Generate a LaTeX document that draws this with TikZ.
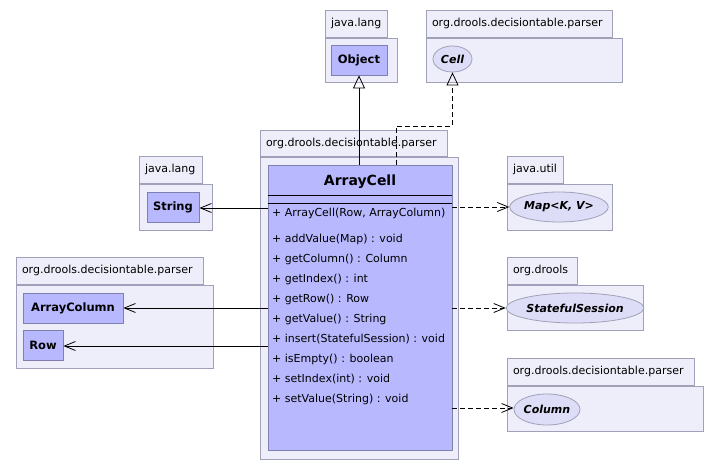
\documentclass[tikz,border=0pt]{standalone}
\usepackage{fontspec}
\setmainfont{DejaVu Sans}
\usetikzlibrary{arrows.meta,positioning,shapes.geometric}

\definecolor{pkgfill}{RGB}{238,238,250}
\definecolor{pkgline}{RGB}{160,160,184}
\definecolor{clsfill}{RGB}{184,184,255}
\definecolor{clsline}{RGB}{128,128,176}
\definecolor{ifcfill}{RGB}{221,221,248}

\begin{document}
\begin{tikzpicture}[x=1pt,y=-1pt,
pkgbody/.style={rectangle,draw=pkgline,fill=pkgfill,line width=0.8pt,inner sep=0pt},
pkgtab/.style={rectangle,draw=pkgline,fill=pkgfill,line width=0.8pt,anchor=south west,
  minimum height=27pt,inner xsep=6pt,inner ysep=0pt,align=left,font=\fontsize{11}{13}\selectfont},
cls/.style={rectangle,draw=clsline,fill=clsfill,line width=0.8pt,inner sep=0pt,
  font=\fontsize{11.5}{13}\selectfont\bfseries},
ifc/.style={ellipse,draw=pkgline,fill=ifcfill,line width=0.8pt,inner sep=0pt,
  font=\fontsize{11}{13}\selectfont\bfseries\itshape},
member/.style={anchor=west,inner sep=0pt,font=\fontsize{11}{13}\selectfont},
uses/.style={-{Straight Barb[length=11pt,width=9pt]},line width=0.8pt},
depends/.style={uses,dash pattern=on 5pt off 3pt},
inherit/.style={-{Triangle[open,length=13pt,width=12pt]},line width=0.8pt},
realize/.style={inherit,dash pattern=on 5pt off 3pt}
]
\useasboundingbox (0,0) rectangle (720,470);

%% Packages %%%%%%%%%%%%%%%%%%%%%%%%%%%%%%%%%%%%%%%%%%%%%%%%%%%%%%%%%%%%%%%%%%%%%%%

%% Paketkoerper
\node [pkgbody, minimum width=72pt,  minimum height=44pt]  (PLANG1) at (361,60)    {};
\node [pkgbody, minimum width=196pt, minimum height=44pt]  (PPARS1) at (524,60)    {};
\node [pkgbody, minimum width=198pt, minimum height=302pt] (PPARS2) at (359,308)   {};
\node [pkgbody, minimum width=73pt,  minimum height=46pt]  (PLANG2) at (175.5,207) {};
\node [pkgbody, minimum width=197pt, minimum height=83pt]  (PPARS3) at (114.5,326.5) {};
\node [pkgbody, minimum width=105pt, minimum height=46pt]  (PUTIL)  at (559.5,207) {};
\node [pkgbody, minimum width=136pt, minimum height=45pt]  (PDROOL) at (575,307.5) {};
\node [pkgbody, minimum width=196pt, minimum height=45pt]  (PPARS4) at (605,408.5) {};

%% Reiter
\node [pkgtab, text width=50pt]  (TLANG1) at (PLANG1.north west) {java.lang};
\node [pkgtab, text width=174pt] (TPARS1) at (PPARS1.north west) {org.drools.decisiontable.parser};
\node [pkgtab, text width=175pt, minimum height=26pt] (TPARS2) at (PPARS2.north west) {org.drools.decisiontable.parser};
\node [pkgtab, text width=51pt]  (TLANG2) at (PLANG2.north west) {java.lang};
\node [pkgtab, text width=175pt] (TPARS3) at (PPARS3.north west) {org.drools.decisiontable.parser};
\node [pkgtab, text width=44pt]  (TUTIL)  at (PUTIL.north west)  {java.util};
\node [pkgtab, text width=58pt]  (TDROOL) at (PDROOL.north west) {org.drools};
\node [pkgtab, text width=175pt] (TPARS4) at (PPARS4.north west) {org.drools.decisiontable.parser};

%% Klassen
\node [cls, minimum width=56pt,  minimum height=30pt] (OBJ)  at (359,60)  {Object};
\node [cls, minimum width=52pt,  minimum height=30pt] (STR)  at (173,207) {String};
\node [cls, minimum width=100pt, minimum height=30pt] (ACOL) at (73,308)  {ArrayColumn};
\node [cls, minimum width=40pt,  minimum height=30pt] (ROW)  at (43,345)  {Row};
\node [cls, minimum width=184pt, minimum height=285pt] (AC)  at (360,307.5) {};

%% Interfaces
\node [ifc, minimum width=39pt,  minimum height=26pt] (CELL) at (452.5,59)  {Cell};
\node [ifc, minimum width=90pt,  minimum height=30pt] (MAP)  at (559,207)   {Map<K, V>};
\node [ifc, minimum width=122pt, minimum height=30pt] (SS)   at (575,308)   {StatefulSession};
\node [ifc, minimum width=66pt,  minimum height=31pt] (COL)  at (547,409.5) {Column};

%% ArrayCell Inhalt
\node [inner sep=0pt, font=\fontsize{14}{16}\selectfont\bfseries] (ACNAME) at (360,182) {ArrayCell};
\draw [line width=0.8pt] (AC.west |- 0,195) -- (AC.east |- 0,195);
\draw [line width=0.8pt] (AC.west |- 0,203) -- (AC.east |- 0,203);
\node [member] (CTOR) at (272,213) {+ ArrayCell(Row, ArrayColumn)};

\foreach \y/\mtext [count=\i] in {239/{+ addValue(Map) : void}, 259/{+ getColumn() : Column},
  279/{+ getIndex() : int}, 299/{+ getRow() : Row}, 319/{+ getValue() : String},
  339/{+ insert(StatefulSession) : void}, 359/{+ isEmpty() : boolean},
  379/{+ setIndex(int) : void}, 399/{+ setValue(String) : void}}
\node [member] (M\i) at (272,\y) {\mtext};

%% Pfade %%%%%%%%%%%%%%%%%%%%%%%%%%%%%%%%%%%%%%%%%%%%%%%%%%%%%%%%%%%%%%%%%%%%%%%%%%

%% Vererbung
\draw [inherit] (OBJ.south |- AC.north) -- (OBJ.south);
\coordinate (KNICK) at (396,126);
\draw [realize] (KNICK |- AC.north) -- (KNICK) -| (CELL.south);

%% Assoziationen
\draw [uses] (AC.west |- 0,208) -- (STR.east |- 0,208);
\draw [uses] (AC.west |- ACOL) -- (ACOL.east);
\draw [uses] (AC.west |- 0,346) -- (ROW.east |- 0,346);

%% Abhaengigkeiten
\draw [depends] (AC.east |- MAP) -- (MAP.west);
\draw [depends] (AC.east |- SS) -- (SS.west);
\draw [depends] (AC.east |- 0,408) -- (COL.west |- 0,408);

\end{tikzpicture}
\end{document}
